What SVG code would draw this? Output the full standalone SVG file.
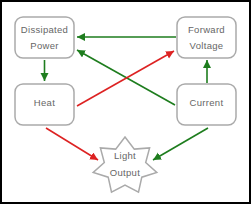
<svg xmlns="http://www.w3.org/2000/svg" width="251" height="204" viewBox="0 0 251 204">
<style>
.node{fill:#fff;stroke:#aaa;stroke-width:1.5}
.t{font-family:"Liberation Sans",Arial,sans-serif;font-size:9.5px;fill:#666;text-anchor:middle;letter-spacing:0.3px}
.g{stroke:#1e7d1e;stroke-width:1.6;fill:none}
.r{stroke:#dd2222;stroke-width:1.6;fill:none}
</style>
<defs>
<marker id="ag" markerUnits="userSpaceOnUse" markerWidth="10" markerHeight="10" refX="8" refY="4" orient="auto"><path d="M0,0 L8,4 L0,8 z" fill="#1e7d1e"/></marker>
<marker id="ar" markerUnits="userSpaceOnUse" markerWidth="10" markerHeight="10" refX="8" refY="4" orient="auto"><path d="M0,0 L8,4 L0,8 z" fill="#dd2222"/></marker>
</defs>
<rect x="1" y="1" width="249" height="202" fill="#fff" stroke="#000" stroke-width="2"/>
<g id="connectors">
<line class="g" x1="176" y1="37" x2="77" y2="37" marker-end="url(#ag)"/>
<line class="g" x1="175" y1="105" x2="77" y2="50" marker-end="url(#ag)"/>
<line class="r" x1="77" y1="106" x2="174" y2="51" marker-end="url(#ar)"/>
<line class="g" x1="44.5" y1="60" x2="44.5" y2="81" marker-end="url(#ag)"/>
<line class="g" x1="207" y1="83" x2="207" y2="60" marker-end="url(#ag)"/>
<line class="r" x1="46" y1="128" x2="98" y2="160" marker-end="url(#ar)"/>
<line class="g" x1="208" y1="128" x2="153" y2="160" marker-end="url(#ag)"/>
</g>
<g id="dissipated-power">
<rect class="node" x="15" y="17" width="59" height="41" rx="8"/>
<text class="t" x="44.5" y="33">Dissipated</text>
<text class="t" x="44.5" y="49">Power</text>
</g>
<g id="forward-voltage">
<rect class="node" x="177" y="17" width="59" height="41" rx="8"/>
<text class="t" x="206.5" y="33">Forward</text>
<text class="t" x="206.5" y="49">Voltage</text>
</g>
<g id="heat">
<rect class="node" x="15" y="84" width="59" height="41" rx="8"/>
<text class="t" x="44.5" y="106">Heat</text>
</g>
<g id="current">
<rect class="node" x="177" y="84" width="59" height="41" rx="8"/>
<text class="t" x="206.5" y="106">Current</text>
</g>
<g id="light-output">
<polygon class="node" points="125,137 134.3,149.1 149.6,147.9 145.7,162.5 156.8,172.4 141.8,177.2 138.5,192.2 125,185 111.5,192.2 108.2,177.2 93.2,172.4 104.3,162.5 100.4,147.9 115.7,149.1"/>
<text class="t" x="125" y="159">Light</text>
<text class="t" x="125" y="176">Output</text>
</g>
</svg>
